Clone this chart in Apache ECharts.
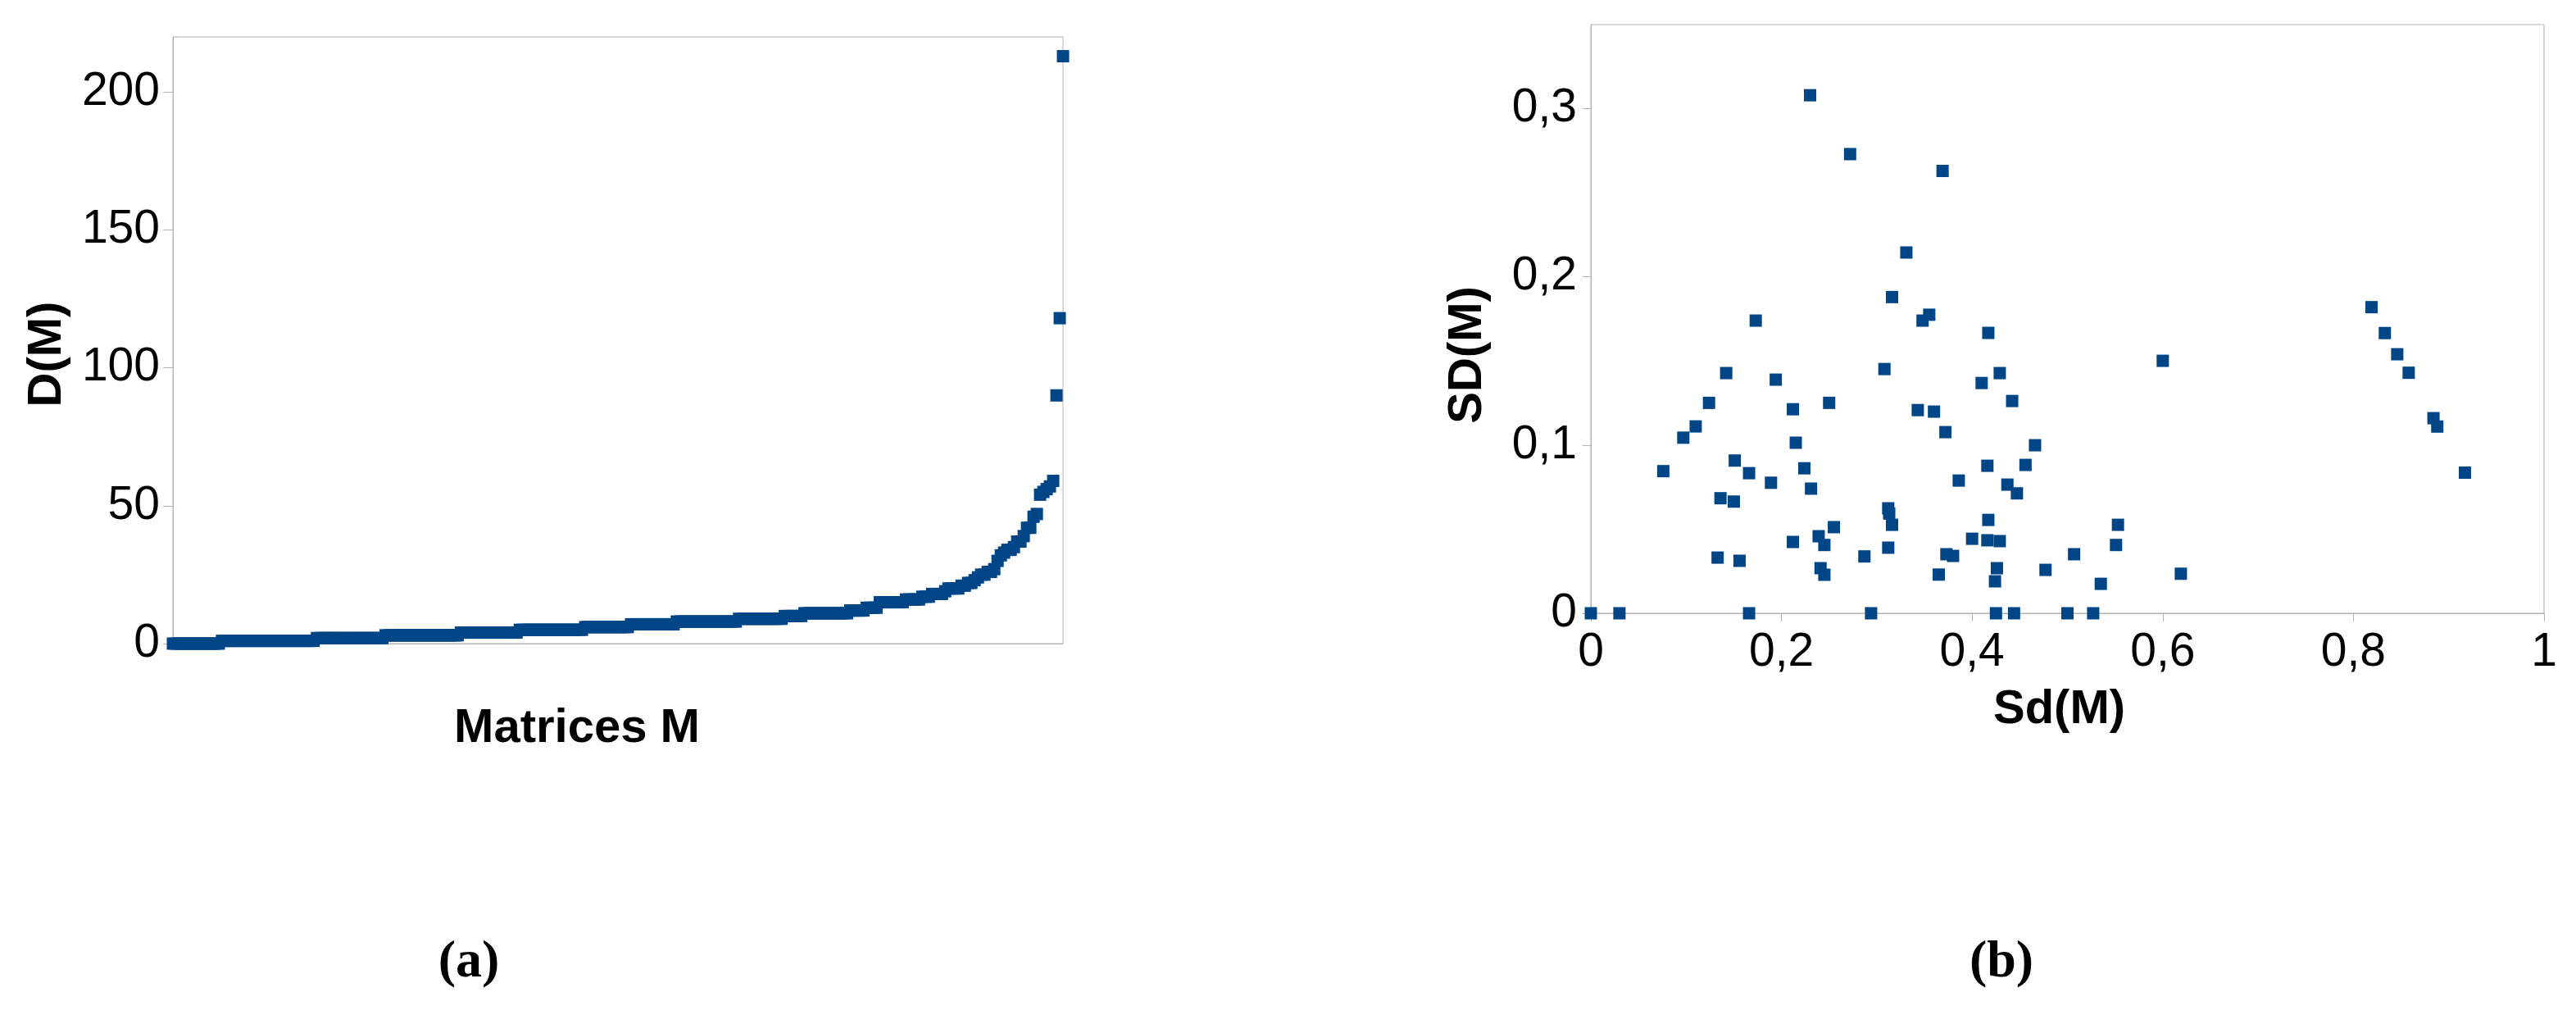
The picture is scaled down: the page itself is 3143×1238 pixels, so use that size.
<!DOCTYPE html>
<html>
<head>
<meta charset="utf-8">
<script src="https://cdn.jsdelivr.net/npm/echarts@6/dist/echarts.min.js"></script>
<style>
  html, body { margin: 0; padding: 0; background: #fff; }
  #main { width: 3143px; height: 1238px; }
</style>
</head>
<body>
<div id="main"></div>
<script>
var dom = document.getElementById('main');
var myChart = echarts.init(dom);

// (a) D(M) for each matrix, sorted ascending
var dmValues = [
    0,0,0,0,0,0,0,0,0,0,0,0,0,0,0,
    1,1,1,1,1,1,1,1,1,1,1,1,1,1,1,1,1,1,1,1,1,1,1,1,1,1,1,1,1,
    2,2,2,2,2,2,2,2,2,2,2,2,2,2,2,2,2,2,2,2,2,
    3,3,3,3,3,3,3,3,3,3,3,3,3,3,3,3,3,3,3,3,3,3,3,
    4,4,4,4,4,4,4,4,4,4,4,4,4,4,4,4,4,4,
    5,5,5,5,5,5,5,5,5,5,5,5,5,5,5,5,5,5,5,5,
    6,6,6,6,6,6,6,6,6,6,6,6,6,6,
    7,7,7,7,7,7,7,7,7,7,7,7,7,7,
    8,8,8,8,8,8,8,8,8,8,8,8,8,8,8,8,8,8,8,
    9,9,9,9,9,9,9,9,9,9,9,9,9,9,
    10,10,10,10,10,10,
    11,11,11,11,11,11,11,11,11,11,11,11,11,11,
    12,12,12,12,12,
    13,13,13,13,
    15,15,15,15,15,15,15,15,
    16,16,16,16,16,
    17,17,17,
    18,18,18,18,
    19,20,20,20,20,21,21,22,22,23,24,25,25,26,26,27,
    30,32,33,34,34,35,37,37,39,42,42,46,47,
    54,55,56,57,59,90,118,213
];

// (b) Sd(M) / SD(M) pairs
var sdSmall = [0, 0.030, 0.076, 0.097, 0.110, 0.124, 0.142, 0.133, 0.136, 0.150,
    0.151, 0.156, 0.166, 0.166, 0.173, 0.189, 0.194, 0.212, 0.215, 0.212,
    0.224, 0.230, 0.231, 0.239, 0.245, 0.241, 0.245, 0.250, 0.255, 0.272,
    0.287, 0.294, 0.308, 0.312, 0.313, 0.316, 0.312, 0.316, 0.331, 0.343,
    0.348, 0.355, 0.360, 0.369, 0.372, 0.365, 0.373, 0.380, 0.386, 0.400,
    0.410, 0.417, 0.416, 0.417, 0.416, 0.424, 0.426, 0.429, 0.425, 0.429,
    0.442, 0.437, 0.447, 0.444, 0.456, 0.466, 0.477, 0.500, 0.507, 0.527,
    0.535, 0.551, 0.553, 0.600, 0.619, 0.819, 0.833, 0.846, 0.858, 0.884,
    0.888, 0.917];
var sdBig = [0, 0, 0.0845, 0.1044, 0.1111, 0.1251, 0.1428, 0.0331, 0.0684, 0.0664,
    0.0908, 0.0312, 0.0833, 0, 0.174, 0.0776, 0.1389, 0.1213, 0.1014, 0.0424,
    0.0862, 0.308, 0.0741, 0.0458, 0.0406, 0.0268, 0.0229, 0.1251, 0.0512, 0.273,
    0.0338, 0, 0.1452, 0.0624, 0.0593, 0.0526, 0.0390, 0.188, 0.2145, 0.1208,
    0.174, 0.1775, 0.1199, 0.263, 0.1077, 0.0230, 0.0351, 0.0341, 0.0789, 0.0443,
    0.1369, 0.1667, 0.0877, 0.0555, 0.0434, 0.0190, 0.0268, 0.0429, 0, 0.1428,
    0.1262, 0.0765, 0.0713, 0, 0.0882, 0.0999, 0.0258, 0, 0.0351, 0,
    0.0175, 0.0406, 0.0526, 0.1501, 0.0235, 0.182, 0.1666, 0.154, 0.143, 0.116,
    0.111, 0.0836];

var dmTicks = [0, 50, 100, 150, 200];
var sdTicksX = [0, 0.2, 0.4, 0.6, 0.8, 1];
var sdTicksY = [0, 0.1, 0.2, 0.3];

var gray = '#b3b3b3';
var blue = '#004586';
var sans = '"Liberation Sans", Arial, sans-serif';
var serif = '"Liberation Serif", "Times New Roman", serif';

function comma(v) {
    return String(v).replace('.', ',');
}

var tickLabel = { fontFamily: sans, fontSize: 57, color: '#000' };
function nameStyle(pad) {
    return { fontFamily: sans, fontSize: 58, fontWeight: 'bold', color: '#000', padding: pad };
}

option = {
    backgroundColor: '#fff',
    animation: false,
    grid: [
        { left: 211, top: 45, width: 1086, height: 740, show: true, borderColor: gray, borderWidth: 1, containLabel: false },
        { left: 1941, top: 30, width: 1163, height: 718, show: true, borderColor: gray, borderWidth: 1, containLabel: false }
    ],
    xAxis: [{
        gridIndex: 0,
        type: 'value',
        min: 0,
        max: dmValues.length - 1,
        name: 'Matrices M',
        nameLocation: 'middle',
        nameGap: 75,
        nameTextStyle: nameStyle([0, 100, 0, 0]),
        axisLine: { show: true, lineStyle: { color: gray, width: 1 } },
        axisTick: { show: false },
        axisLabel: { show: false },
        splitLine: { show: false }
    }, {
        gridIndex: 1,
        type: 'value',
        min: 0,
        max: 1,
        interval: 0.2,
        name: 'Sd(M)',
        nameLocation: 'middle',
        nameGap: 89,
        nameTextStyle: nameStyle([0, 20, 0, 0]),
        axisLine: { show: true, lineStyle: { color: gray, width: 1 } },
        axisTick: { show: true, length: 10, lineStyle: { color: gray }, customValues: sdTicksX },
        axisLabel: Object.assign({ margin: 20, formatter: comma, customValues: sdTicksX }, tickLabel),
        splitLine: { show: false }
    }],
    yAxis: [{
        gridIndex: 0,
        type: 'value',
        min: 0,
        max: 220,
        name: 'D(M)',
        nameLocation: 'middle',
        nameGap: 124,
        nameTextStyle: nameStyle([0, 34, 0, 0]),
        axisLine: { show: true, lineStyle: { color: gray, width: 1 } },
        axisTick: { show: true, length: 12, lineStyle: { color: gray }, customValues: dmTicks },
        axisLabel: Object.assign({ margin: 16, customValues: dmTicks }, tickLabel),
        splitLine: { show: false }
    }, {
        gridIndex: 1,
        type: 'value',
        min: 0,
        max: 0.35,
        name: 'SD(M)',
        nameLocation: 'middle',
        nameGap: 121,
        nameTextStyle: nameStyle([0, 88, 0, 0]),
        axisLine: { show: true, lineStyle: { color: gray, width: 1 } },
        axisTick: { show: true, length: 10, lineStyle: { color: gray }, customValues: sdTicksY },
        axisLabel: Object.assign({ margin: 17, formatter: comma, customValues: sdTicksY }, tickLabel),
        splitLine: { show: false }
    }],
    series: [{
        type: 'scatter',
        xAxisIndex: 0,
        yAxisIndex: 0,
        symbol: 'rect',
        symbolSize: 15,
        itemStyle: { color: blue, opacity: 1 },
        data: dmValues.map(function (v, i) { return [i, v]; })
    }, {
        type: 'scatter',
        xAxisIndex: 1,
        yAxisIndex: 1,
        symbol: 'rect',
        symbolSize: 15,
        itemStyle: { color: blue, opacity: 1 },
        data: sdSmall.map(function (v, i) { return [v, sdBig[i]]; })
    }],
    graphic: [{
        type: 'text',
        x: 572,
        y: 1174,
        style: { text: '(a)', fontFamily: serif, fontWeight: 'bold', fontSize: 64, fill: '#000', align: 'center', verticalAlign: 'middle' }
    }, {
        type: 'text',
        x: 2442,
        y: 1174,
        style: { text: '(b)', fontFamily: serif, fontWeight: 'bold', fontSize: 64, fill: '#000', align: 'center', verticalAlign: 'middle' }
    }]
};

if (option && typeof option === 'object') {
    myChart.setOption(option, true);
}
</script>
</body>
</html>
